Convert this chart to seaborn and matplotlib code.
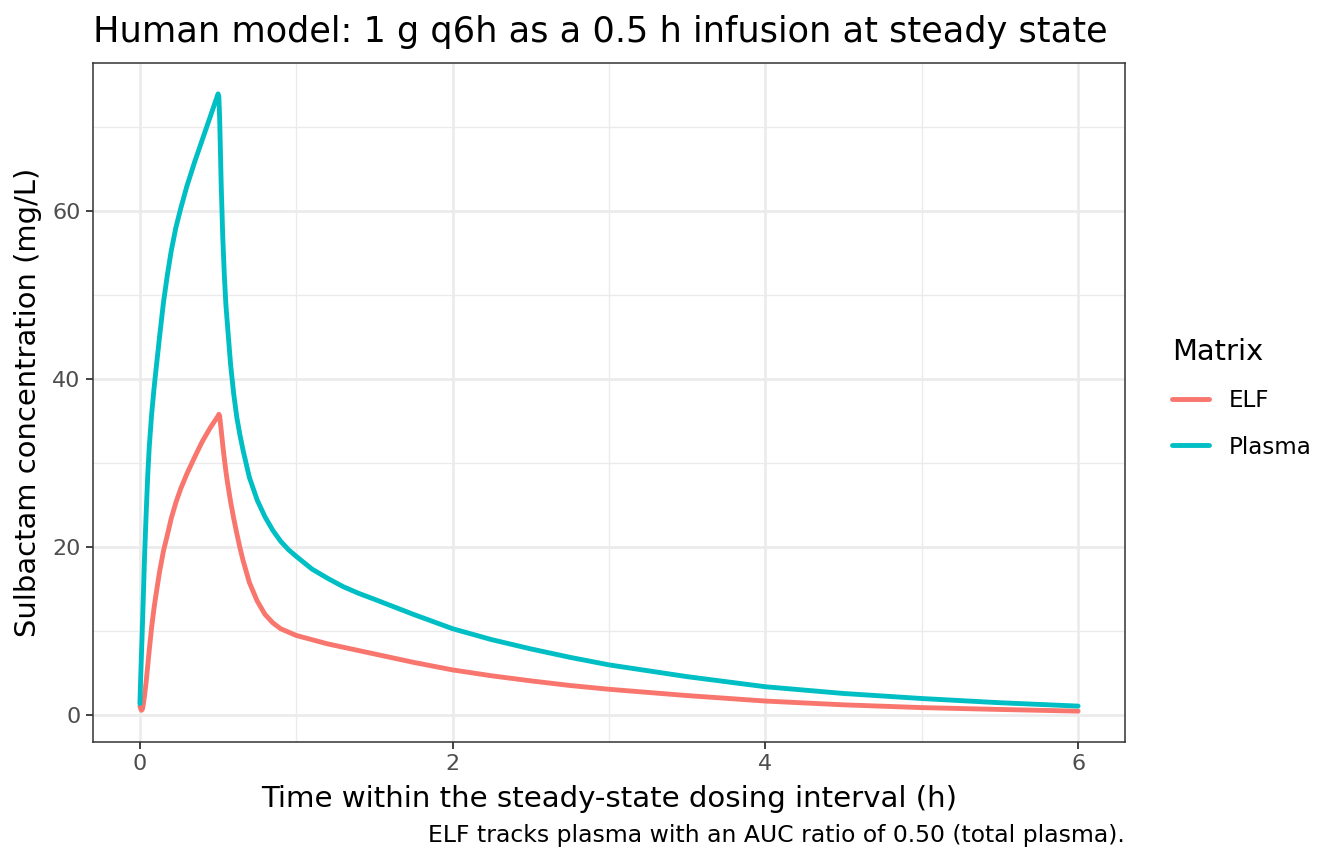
import numpy as np
import pandas as pd
import seaborn as sns
import matplotlib
matplotlib.use('Agg')
import matplotlib.pyplot as plt
from matplotlib.ticker import MultipleLocator

# values (hours, mg/L)
time_h = [0, 0.005, 0.01, 0.015, 0.02, 0.03, 0.04, 0.05, 0.06, 0.075, 0.09, 0.1,
          0.125, 0.15, 0.175, 0.2, 0.23, 0.26, 0.3, 0.35, 0.4, 0.45, 0.5, 0.505,
          0.51, 0.52, 0.53, 0.54, 0.55, 0.56, 0.58, 0.6, 0.62, 0.64, 0.66, 0.7,
          0.75, 0.8, 0.85, 0.9, 0.95, 1.0, 1.1, 1.2, 1.3, 1.4, 1.5, 1.75, 2.0,
          2.25, 2.5, 2.75, 3.0, 3.5, 4.0, 4.5, 5.0, 5.5, 6.0]
plasma = [1.4, 4.5, 7.3, 10.0, 13.0, 19.0, 24.0, 28.5, 32.0, 35.8, 38.8, 40.6,
          44.9, 49.0, 52.3, 55.2, 58.0, 60.2, 62.9, 65.8, 68.5, 71.2, 73.9, 73.5,
          71.0, 63.0, 56.8, 52.3, 48.8, 46.4, 41.7, 38.2, 35.4, 33.3, 31.5, 28.3,
          25.6, 23.6, 22.0, 20.7, 19.7, 18.9, 17.4, 16.3, 15.3, 14.5, 13.8, 12.0, 10.3,
          9.0, 7.9, 6.9, 6.0, 4.6, 3.4, 2.6, 2.0, 1.5, 1.1]
elf = [1.1, 0.8, 0.6, 0.7, 1.1, 2.4, 4.0, 5.9, 7.8, 10.5, 12.7, 14.0,
       17.0, 19.5, 21.4, 23.4, 25.3, 26.9, 28.7, 30.7, 32.6, 34.2, 35.6, 35.8,
       35.6, 33.9, 32.1, 30.5, 29.0, 27.7, 25.4, 23.4, 21.6, 19.9, 18.4, 15.8,
       13.6, 12.0, 11.0, 10.3, 9.9, 9.5, 9.0, 8.5, 8.1, 7.7, 7.3, 6.3, 5.4,
       4.7, 4.1, 3.55, 3.1, 2.35, 1.7, 1.25, 0.92, 0.7, 0.5]

matrix_names = ['ELF', 'Plasma']
colours = ['#F8766D', '#00BFC4']

df = pd.DataFrame({
    'time': time_h * 2,
    'conc': elf + plasma,
    'Matrix': ['ELF'] * len(time_h) + ['Plasma'] * len(time_h),
})

sns.set_style('white')
plt.rcParams['font.family'] = ['DejaVu Sans']
plt.rcParams['text.color'] = 'black'

W, H = 1344, 864
fig = plt.figure(figsize=(W / 100, H / 100), dpi=100)
ax = fig.add_axes([93 / W, 1 - 742 / H, (1125 - 93) / W, (742 - 63) / H])

sns.lineplot(data=df, x='time', y='conc', hue='Matrix', hue_order=matrix_names,
             palette=dict(zip(matrix_names, colours)), linewidth=3.5, ax=ax,
             estimator=None, sort=False, legend=True)
for ln in ax.get_lines():
    ln.set_solid_joinstyle('round')

# ggplot-like limits (5% expansion)
ax.set_xlim(-0.3, 6.3)
lo, hi = min(elf + plasma), max(elf + plasma)
pad = (hi - lo) * 0.05
ax.set_ylim(lo - pad, hi + pad)

ax.xaxis.set_major_locator(MultipleLocator(2))
ax.xaxis.set_minor_locator(MultipleLocator(1))
ax.yaxis.set_major_locator(MultipleLocator(20))
ax.yaxis.set_minor_locator(MultipleLocator(10))
ax.grid(which='major', color='#EBEBEB', linewidth=1.9)
ax.grid(which='minor', color='#EBEBEB', linewidth=0.95)
ax.set_axisbelow(True)
for s in ax.spines.values():
    s.set_color('#333333')
    s.set_linewidth(1.1)
ax.tick_params(which='major', length=5, width=1.3, color='#333333',
               labelsize=16, labelcolor='#4D4D4D', bottom=True, left=True, pad=4)
ax.tick_params(which='minor', length=0)
ax.set_xlabel('')
ax.set_ylabel('')

handles, labels = ax.get_legend_handles_labels()
ax.get_legend().remove()
leg = fig.legend(handles, labels, title='Matrix', loc='center left',
                 bbox_to_anchor=(1172 / W, 1 - 398.5 / H), frameon=False,
                 fontsize=16.6, title_fontsize=20.8, handlelength=1.6,
                 handletextpad=0.85, labelspacing=1.0, borderaxespad=0, borderpad=0)
leg._legend_box.align = 'left'
for h in leg.legend_handles:
    h.set_linewidth(3.5)
for t in leg.get_texts():
    t.set_color('black')
leg.get_title().set_color('black')

fig.text(93 / W, 1 - 42 / H, 'Human model: 1 g q6h as a 0.5 h infusion at steady state',
         ha='left', va='baseline', fontsize=25.3, color='black')
fig.text(609 / W, 1 - 807 / H, 'Time within the steady-state dosing interval (h)',
         ha='center', va='baseline', fontsize=21.1, color='black')
fig.text(28 / W, 1 - 402 / H, 'Sulbactam concentration (mg/L)',
         ha='center', va='center', rotation=90, fontsize=20.9, color='black')
fig.text(1125 / W, 1 - 842 / H,
         'ELF tracks plasma with an AUC ratio of 0.50 (total plasma).',
         ha='right', va='baseline', fontsize=16.9, color='black')

fig.savefig('out.png', dpi=100)
